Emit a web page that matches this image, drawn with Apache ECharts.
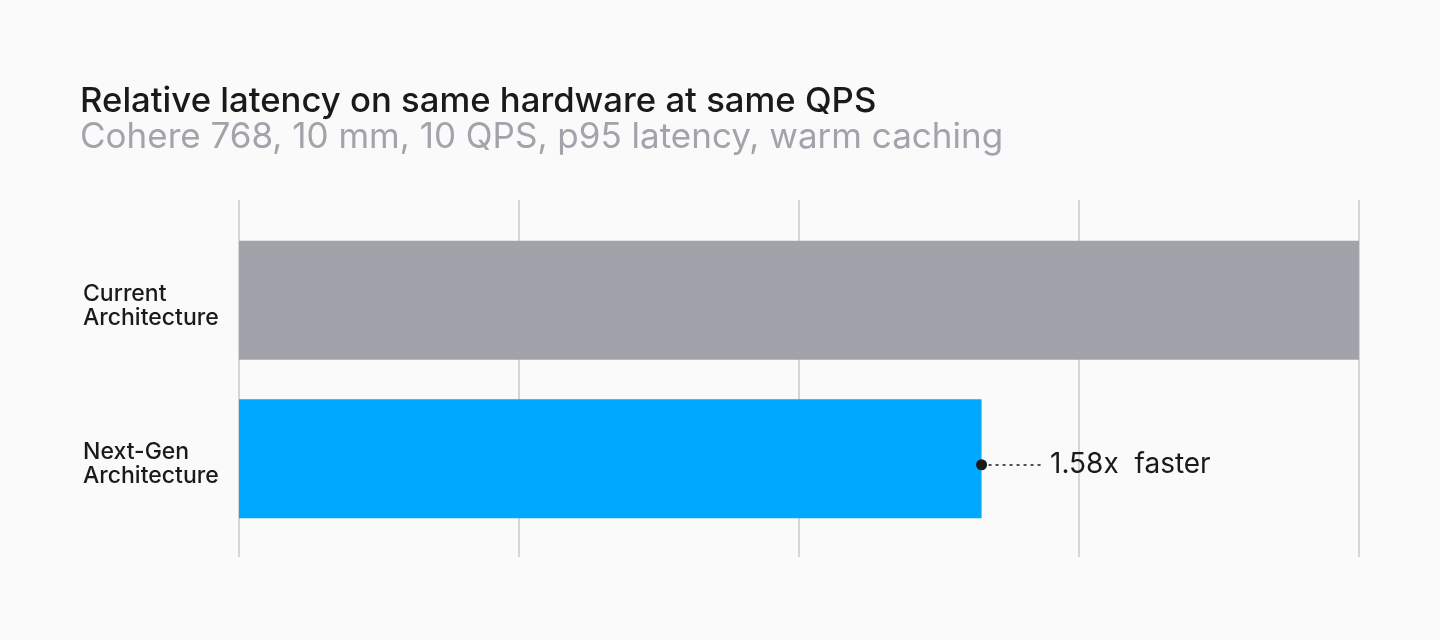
<!DOCTYPE html>
<html>
<head>
<meta charset="utf-8">
<script src="https://cdn.jsdelivr.net/npm/echarts@6/dist/echarts.min.js"></script>
<style>
html,body{margin:0;padding:0;background:#fafafa;}
#chart{width:1440px;height:640px;}
</style>
</head>
<body>
<div id="chart"></div>
<script>
const titleText = "Relative latency on same hardware at same QPS";
const subtitleText = "Cohere 768, 10 mm, 10 QPS, p95 latency, warm caching";
const categories = ["Current\nArchitecture", "Next-Gen\nArchitecture"];
const latency = [1.0, 0.663];
const barColors = ["#a2a2ab", "#00a8ff"];
const annotationText = "1.58x  faster";
const annotationIndex = 1;
const annotationEnd = 0.717;

const font = "Inter";
const chart = echarts.init(document.getElementById('chart'));
const hiddenAxis = {axisLabel: {show: false}, axisLine: {show: false}, axisTick: {show: false}, splitLine: {show: false}};
chart.setOption({
  backgroundColor: '#fafafa',
  animation: false,
  title: {
    text: titleText,
    subtext: subtitleText,
    left: 75,
    top: 80,
    itemGap: 0,
    textStyle: {fontFamily: font, fontSize: 34.7, fontWeight: 500, color: '#1a1a1a', lineHeight: 34},
    subtextStyle: {fontFamily: font, fontSize: 35, color: '#a3a3ab', lineHeight: 34}
  },
  grid: [
    {left: 239, right: 81, top: 200, bottom: 83},
    {left: 239, right: 81, top: 221, bottom: 102},
    {left: 239, right: 81, top: 200, bottom: 87}
  ],
  xAxis: [
    {gridIndex: 0, type: 'value', min: 0, max: 1, interval: 0.25,
     axisLabel: {show: false}, axisLine: {show: false}, axisTick: {show: false},
     splitLine: {show: true, lineStyle: {color: '#d6d6d6', width: 2}}},
    Object.assign({gridIndex: 1, type: 'value', min: 0, max: 1, interval: 0.25}, hiddenAxis),
    Object.assign({gridIndex: 2, type: 'value', min: 0, max: 1, interval: 0.25}, hiddenAxis)
  ],
  yAxis: [
    {gridIndex: 0, type: 'category', data: categories, inverse: true, show: false},
    {gridIndex: 1, type: 'category', data: categories, inverse: true,
     axisLine: {show: false}, axisTick: {show: false},
     axisLabel: {align: 'left', margin: 156, fontFamily: font, fontSize: 23, fontWeight: 500, color: '#1a1a1a', lineHeight: 24,
       formatter: v => '{s|}\n' + v.split('\n').map(s => '{a|' + s + '}').join('\n'),
       rich: {
         s: {lineHeight: 11, fontSize: 1},
         a: {fontFamily: font, fontSize: 23, fontWeight: 500, color: '#1a1a1a', lineHeight: 24, align: 'left'}
       }}},
    {gridIndex: 2, type: 'category', data: categories, inverse: true, show: false}
  ],
  series: [{
    type: 'bar',
    xAxisIndex: 1, yAxisIndex: 1,
    barWidth: 119,
    data: latency.map((v, i) => ({value: v, itemStyle: {color: barColors[i]}}))
  }, {
    type: 'line',
    xAxisIndex: 2, yAxisIndex: 2,
    data: latency,
    showSymbol: false,
    lineStyle: {opacity: 0},
    silent: true,
    markLine: {
      silent: true,
      symbol: ['circle', 'none'],
      symbolSize: 11,
      lineStyle: {type: [3, 4], color: '#1a1a1a', width: 1.6},
      itemStyle: {color: '#1a1a1a'},
      label: {show: true, position: 'end', distance: 8, formatter: annotationText,
              fontFamily: font, fontSize: 28, color: '#1a1a1a'},
      data: [[
        {coord: [latency[annotationIndex], categories[annotationIndex]]},
        {coord: [annotationEnd, categories[annotationIndex]]}
      ]]
    }
  }]
});
</script>
</body>
</html>
